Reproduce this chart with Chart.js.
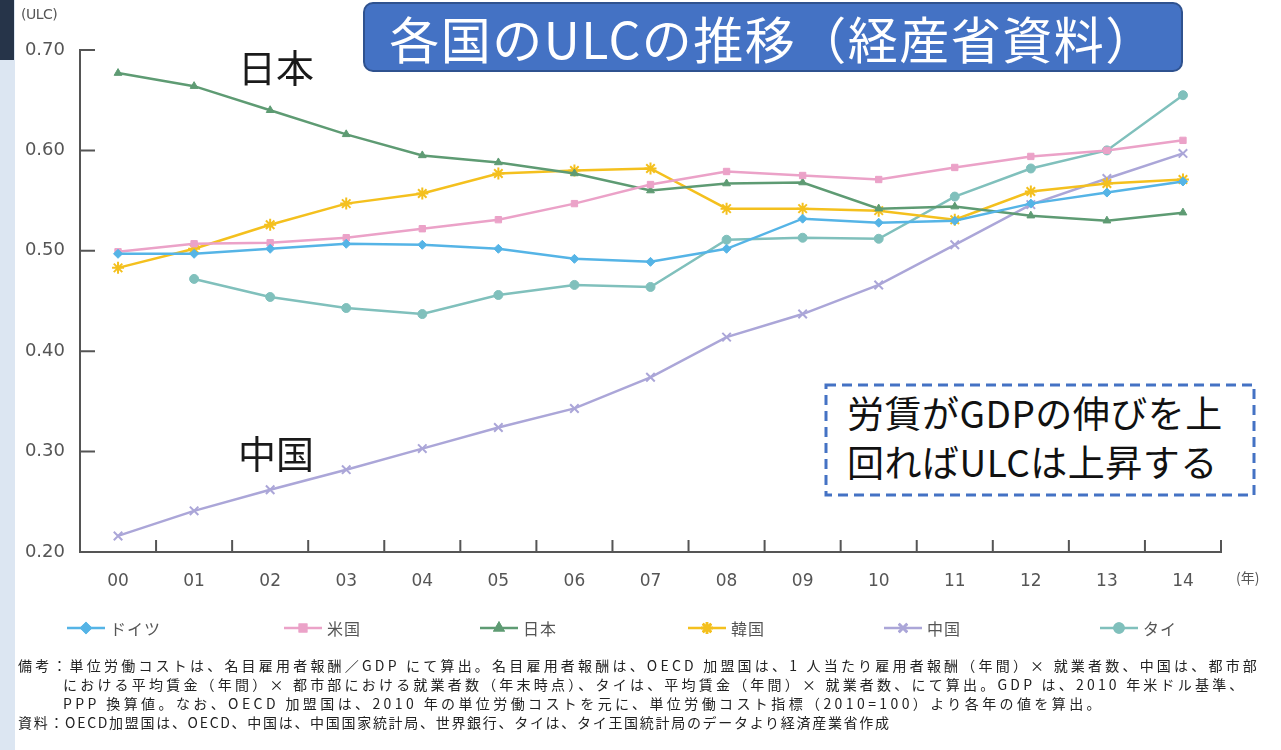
<!DOCTYPE html>
<html lang="ja">
<head>
<meta charset="utf-8">
<title>各国のULCの推移</title>
<script src="https://cdn.jsdelivr.net/npm/chart.js@4.4.1/dist/chart.umd.min.js"></script>
<style>
html,body{margin:0;padding:0;background:#fff;}
body{width:1281px;height:750px;position:relative;overflow:hidden;font-family:"Noto Sans CJK JP","Noto Sans",sans-serif;}
#side{position:absolute;left:0;top:0;width:15px;height:750px;background:#dce6f2;}
#sideTop{position:absolute;left:0;top:0;width:14px;height:60px;background:#263449;}
#chart{position:absolute;left:0;top:0;}
#title{position:absolute;left:363px;top:2px;width:816px;height:66px;background:#4472c4;border:2px solid #2f528f;border-radius:10px;color:#fff;font-size:50px;line-height:66px;text-align:center;white-space:nowrap;letter-spacing:1.5px;}
.big{position:absolute;font-size:38px;color:#1a1a1a;line-height:1;}
#unit{position:absolute;left:21px;top:6px;font-family:"DejaVu Sans",sans-serif;font-size:14px;color:#555;letter-spacing:-0.5px;}
#year{position:absolute;left:1236px;top:567px;font-size:14px;color:#555;}
#note{position:absolute;left:824px;top:383px;width:432px;height:114px;}
#note svg{position:absolute;left:0;top:0;}
#note .txt{position:absolute;left:23px;top:5px;font-size:37px;line-height:49px;color:#111;white-space:nowrap;letter-spacing:0.5px;}
#legend{position:absolute;left:0;top:616px;width:1281px;height:24px;}
.item{position:absolute;top:0;display:flex;align-items:center;height:24px;}
.item span{margin-left:5px;font-size:16px;color:#555;letter-spacing:1px;}
.foot{position:absolute;font-size:14px;color:#222;white-space:nowrap;line-height:18px;}
</style>
</head>
<body>
<div id="side"></div>
<div id="sideTop"></div>
<canvas id="chart" width="1281" height="750"></canvas>
<div id="title">各国のULCの推移（経産省資料）</div>
<div id="unit">(ULC)</div>
<div id="year">(年)</div>
<div class="big" style="left:238px;top:47px;">日本</div>
<div class="big" style="left:238px;top:433px;">中国</div>
<div id="note">
  <svg width="432" height="114"><rect x="2" y="2" width="428" height="110" fill="#fff" stroke="#4472c4" stroke-width="3" stroke-dasharray="10,6"/></svg>
  <div class="txt">労賃がGDPの伸びを上<br>回ればULCは上昇する</div>
</div>
<div id="legend"></div>
<div class="foot" style="left:18px;top:656px;letter-spacing:3.2px;">備考：単位労働コストは、名目雇用者報酬／GDP にて算出。名目雇用者報酬は、OECD 加盟国は、1 人当たり雇用者報酬（年間）× 就業者数、中国は、都市部</div>
<div class="foot" style="left:63px;top:675px;letter-spacing:3.2px;">における平均賃金（年間）× 都市部における就業者数（年末時点）、タイは、平均賃金（年間）× 就業者数、にて算出。GDP は、2010 年米ドル基準、</div>
<div class="foot" style="left:63px;top:694px;letter-spacing:3.4px;">PPP 換算値。なお、OECD 加盟国は、2010 年の単位労働コストを元に、単位労働コスト指標（2010=100）より各年の値を算出。</div>
<div class="foot" style="left:18px;top:713px;letter-spacing:1.7px;">資料：OECD加盟国は、OECD、中国は、中国国家統計局、世界銀行、タイは、タイ王国統計局のデータより経済産業省作成</div>
<script>
// Years on the horizontal axis (2000–2014)
const years = ['00','01','02','03','04','05','06','07','08','09','10','11','12','13','14'];

// Unit labour cost per country
const germany = [0.497,0.497,0.502,0.507,0.506,0.502,0.492,0.489,0.502,0.532,0.528,0.530,0.547,0.558,0.569];
const usa     = [0.499,0.507,0.508,0.513,0.522,0.531,0.547,0.566,0.579,0.575,0.571,0.583,0.594,0.600,0.610];
const japan   = [0.677,0.664,0.640,0.616,0.595,0.588,0.577,0.560,0.567,0.568,0.542,0.544,0.535,0.530,0.538];
const korea   = [0.483,0.502,0.526,0.547,0.557,0.577,0.580,0.582,0.542,0.542,0.540,0.531,0.559,0.567,0.571];
const china   = [0.216,0.241,0.262,0.282,0.303,0.324,0.343,0.374,0.414,0.437,0.466,0.506,0.546,0.572,0.597];
const thai    = [null,0.472,0.454,0.443,0.437,0.456,0.466,0.464,0.511,0.513,0.512,0.554,0.582,0.600,0.655];

// Vertical axis ticks
const yTicks = [0.20,0.30,0.40,0.50,0.60,0.70];

const seriesNames = ['ドイツ','米国','日本','韓国','中国','タイ'];
const seriesData = [germany, usa, japan, korea, china, thai];
const seriesColors = ['#55b4e6','#eba2c8','#5e9b73','#f4c01e','#aba6d8','#80c0bc'];
const seriesPoints = ['rectRot','rect','triangle','star','crossRot','circle'];
const legendLeft = [67, 284, 480, 688, 884, 1100];

const datasets = seriesNames.map((name, i) => ({
  label: name,
  data: seriesData[i],
  borderColor: seriesColors[i],
  backgroundColor: seriesColors[i],
  pointBackgroundColor: seriesColors[i],
  pointBorderColor: seriesColors[i],
  borderWidth: 2.5,
  pointStyle: seriesPoints[i],
  pointRadius: seriesPoints[i] === 'star' || seriesPoints[i] === 'crossRot' ? 6 : 4.5,
  pointBorderWidth: seriesPoints[i] === 'star' || seriesPoints[i] === 'crossRot' ? 2 : 1,
  tension: 0,
  spanGaps: false
}));

// Short ticks drawn on the inner side of both axes
const innerTicks = {
  id: 'innerTicks',
  beforeDatasetsDraw(chart) {
    const {ctx, chartArea: {left, bottom}, scales: {x, y}} = chart;
    ctx.save();
    ctx.strokeStyle = '#555';
    ctx.lineWidth = 2;
    ctx.beginPath();
    y.ticks.forEach(t => {
      const py = y.getPixelForValue(t.value);
      ctx.moveTo(left, py);
      ctx.lineTo(left + 15, py);
    });
    for (let i = 1; i <= years.length; i++) {
      const px = x.getPixelForValue(i - 0.5);
      ctx.moveTo(px, bottom);
      ctx.lineTo(px, bottom - 12);
    }
    ctx.stroke();
    ctx.restore();
  }
};

const chart = new Chart(document.getElementById('chart'), {
  type: 'line',
  data: { labels: years, datasets },
  options: {
    responsive: false,
    devicePixelRatio: 1,
    animation: false,
    layout: { padding: { top: 50, right: 60, bottom: 158, left: 0 } },
    plugins: { legend: { display: false }, tooltip: { enabled: false } },
    scales: {
      x: {
        offset: true,
        grid: { display: false },
        border: { display: true, color: '#555', width: 2 },
        ticks: { color: '#555', font: { family: 'DejaVu Sans', size: 17 }, padding: 11, maxRotation: 0, autoSkip: false },
        afterFit(scale) { scale.height = 40; }
      },
      y: {
        min: 0.2,
        max: 0.7,
        grid: { display: false },
        border: { display: true, color: '#555', width: 2 },
        afterBuildTicks(scale) { scale.ticks = yTicks.map(v => ({ value: v })); },
        ticks: { color: '#555', font: { family: 'DejaVu Sans', size: 18 }, padding: 7, callback: v => Number(v).toFixed(2) },
        afterFit(scale) { scale.width = 80; }
      }
    }
  },
  plugins: [innerTicks]
});

// Legend: line with marker, then the country name
const legend = document.getElementById('legend');
chart.data.datasets.forEach((ds, i) => {
  const item = document.createElement('div');
  item.className = 'item';
  item.style.left = legendLeft[i] + 'px';
  const c = document.createElement('canvas');
  c.width = 38; c.height = 16;
  const g = c.getContext('2d');
  g.strokeStyle = ds.borderColor;
  g.lineWidth = 2.5;
  g.beginPath(); g.moveTo(0, 8); g.lineTo(38, 8); g.stroke();
  Chart.helpers.drawPoint(g, {
    pointStyle: ds.pointStyle,
    radius: ds.pointRadius,
    rotation: 0,
    borderWidth: ds.pointBorderWidth
  }, 19, 8);
  g.fillStyle = ds.pointBackgroundColor;
  g.strokeStyle = ds.pointBorderColor;
  g.fill(); g.stroke();
  const s = document.createElement('span');
  s.textContent = ds.label;
  item.appendChild(c); item.appendChild(s);
  legend.appendChild(item);
});
</script>
</body>
</html>
